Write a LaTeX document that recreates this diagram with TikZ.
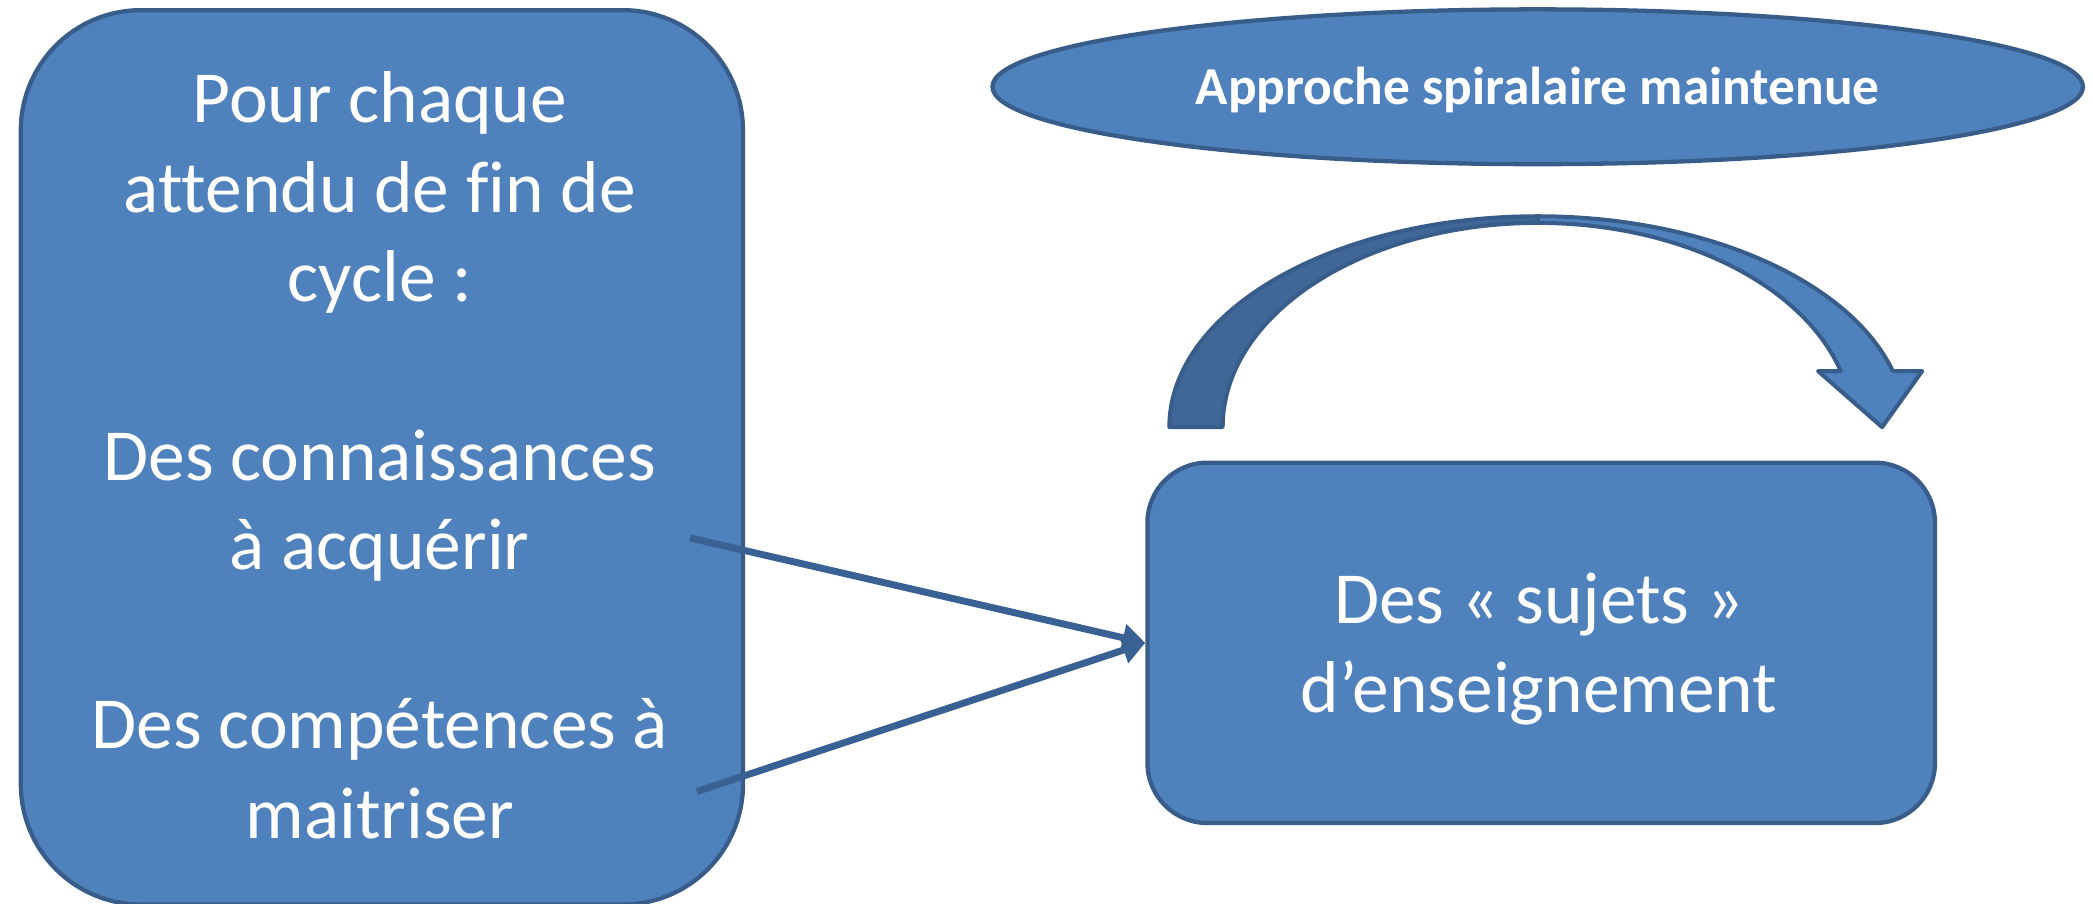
\documentclass[tikz,border=0pt]{standalone}
\usepackage{fontspec}
\setmainfont{Carlito}[Ligatures={NoCommon}]
\usetikzlibrary{shapes.geometric,arrows.meta}
\definecolor{fillblue}{HTML}{4F81BD}
\definecolor{edgeblue}{HTML}{385D8A}
\definecolor{darkblue}{HTML}{406797}
\definecolor{linkblue}{HTML}{3A6194}
\begin{document}
\begin{tikzpicture}[x=1pt,y=-1pt,
  boxstyle/.style={draw=edgeblue, fill=fillblue, line width=3.2pt},
  bigtxt/.style={text=white, font=\fontsize{55}{66}\selectfont, anchor=base, inner sep=0pt},
  titletxt/.style={text=white, font=\bfseries\fontsize{40}{48}\selectfont, anchor=base, inner sep=0pt},
  conn/.style={draw=linkblue, line width=5.2pt, -{Triangle[length=17pt,width=20pt]}},
  arrowpart/.style={draw=edgeblue, line width=3pt, line join=round}]
\useasboundingbox (0,0) rectangle (1568,677);

% left box
\node[boxstyle, rounded corners=90pt, minimum width=541pt, minimum height=670pt, inner sep=0pt, anchor=north west] (lbox) at (14,6) {};
\node[bigtxt] (l1) at (284.5,92) {Pour chaque};
\node[bigtxt] (l2) at (284.5,159) {attendu de fin de};
\node[bigtxt] (l3) at (284.5,226) {cycle :};
\node[bigtxt] (l4) at (284.5,360) {Des connaissances};
\node[bigtxt] (l5) at (284.5,427) {à acquérir};
\node[bigtxt] (l6) at (284.5,561) {Des compétences à};
\node[bigtxt] (l7) at (284.5,628) {maitriser};

% ellipse
\node[boxstyle, ellipse, minimum width=817pt, minimum height=116pt, inner sep=0pt] (ell) at (1152,65) {};
\node[titletxt] (ellt) at (1152,78) {Approche spiralaire maintenue};

% curved arrow
\path[arrowpart, fill=darkblue] (876,320) arc[start angle=180, end angle=270, x radius=276, y radius=158]
  -- (1152,167) arc[start angle=270, end angle=180, x radius=236, y radius=153] -- cycle;
\path[arrowpart, fill=fillblue] (1152,162) arc[start angle=270, end angle=344.59, x radius=276, y radius=158]
  -- (1440,278) -- (1410,320) -- (1362,278) -- (1379,278)
  arc[start angle=344.07, end angle=270, x radius=236, y radius=153] -- cycle;

% right box
\node[boxstyle, rounded corners=45pt, minimum width=590pt, minimum height=270pt, inner sep=0pt, anchor=north west] (rbox) at (858,345) {};
\node[bigtxt] (r1) at (1153,467) {Des « sujets »};
\node[bigtxt] (r2) at (1153,534) {d’enseignement};

% connectors
\coordinate (a1) at (517,403);
\coordinate (a2) at (522,593);
\draw[conn] (a1) -- (rbox.west);
\draw[conn] (a2) -- (rbox.west);
\end{tikzpicture}
\end{document}
